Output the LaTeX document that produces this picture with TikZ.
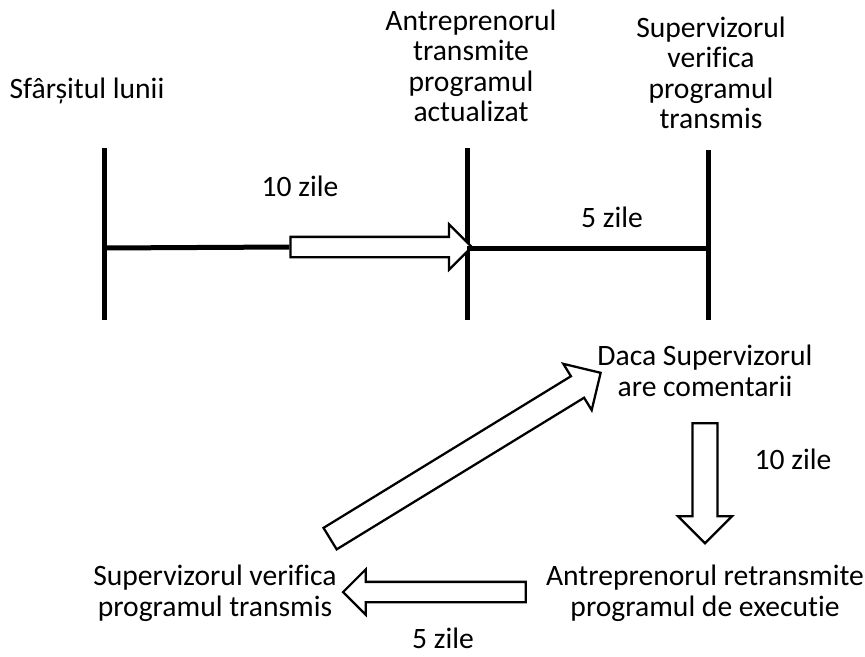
\documentclass[tikz,border=0pt]{standalone}
\usepackage{fontspec}
\setmainfont{Carlito}[Ligatures=NoCommon]
\usetikzlibrary{shapes.arrows}
\tikzset{
  eticheta/.style={align=center, font=\fontsize{22.2}{22.9}\selectfont},
  bara/.style={line width=3.75pt},
  sageatamica/.style={single arrow, draw, fill=white, line width=1.7pt, inner xsep=0pt, inner ysep=6.75pt,
    single arrow head extend=9.4pt},
  sageatamare/.style={single arrow, draw, fill=white, line width=1.7pt, inner xsep=0pt, inner ysep=8.6pt,
    single arrow head extend=10.9pt}
}
\begin{document}
\begin{tikzpicture}[x=0.75pt,y=-0.75pt]
    \useasboundingbox (0,0) rectangle (865,657);
    % bare verticale
    \coordinate (lunaSus) at (104,148);
    \coordinate (lunaJos) at (104,320);
    \coordinate (antrSus) at (467,148);
    \coordinate (antrJos) at (467,320);
    \coordinate (supSus) at (708,150);
    \coordinate (supJos) at (708,320);
    \coordinate (lunaMij) at (104,248);
    \coordinate (antrMij) at (467,248);
    \coordinate (supMij) at (708,248);
    \draw[bara] (lunaSus) -- (lunaJos);
    \draw[bara] (antrSus) -- (antrJos);
    \draw[bara] (supSus) -- (supJos);
    \node[sageatamica, minimum height=136pt] (sagA) at (376,247) {};
    \draw[bara] (lunaMij) -- (sagA.tail);
    \draw[bara] (antrMij) -- (supMij);
    % texte
    \node[eticheta] (sfarsit) at (87,91) {Sfârșitul lunii};
    \node[eticheta] (antrep) at (471,66) {Antreprenorul\\transmite\\programul\\actualizat};
    \node[eticheta] (superv) at (711,73) {Supervizorul\\verifica\\programul\\transmis};
    \node[eticheta] (comentarii) at (705,371) {Daca Supervizorul\\are comentarii};
    \node[eticheta] (retrans) at (705,593) {Antreprenorul retransmite\\programul de executie};
    \node[eticheta] (verif) at (215,593) {Supervizorul verifica\\programul transmis};
    \node[eticheta] (zileA) at (300,186) {10 zile};
    \node[eticheta] (zileB) at (612,217) {5 zile};
    \node[eticheta] (zileC) at (793,459) {10 zile};
    \node[eticheta] (zileD) at (443,638) {5 zile};
    % sageti bloc
    \node[sageatamare, minimum height=90pt, rotate=-90] (sagJos) at (705,477) {};
    \node[sageatamica, minimum height=137pt, rotate=180] (sagStanga) at (439.5,592) {};
    \node[sageatamare, minimum height=238pt, rotate=31.5] (sagDiag) at (460,459) {};
\end{tikzpicture}
\end{document}
